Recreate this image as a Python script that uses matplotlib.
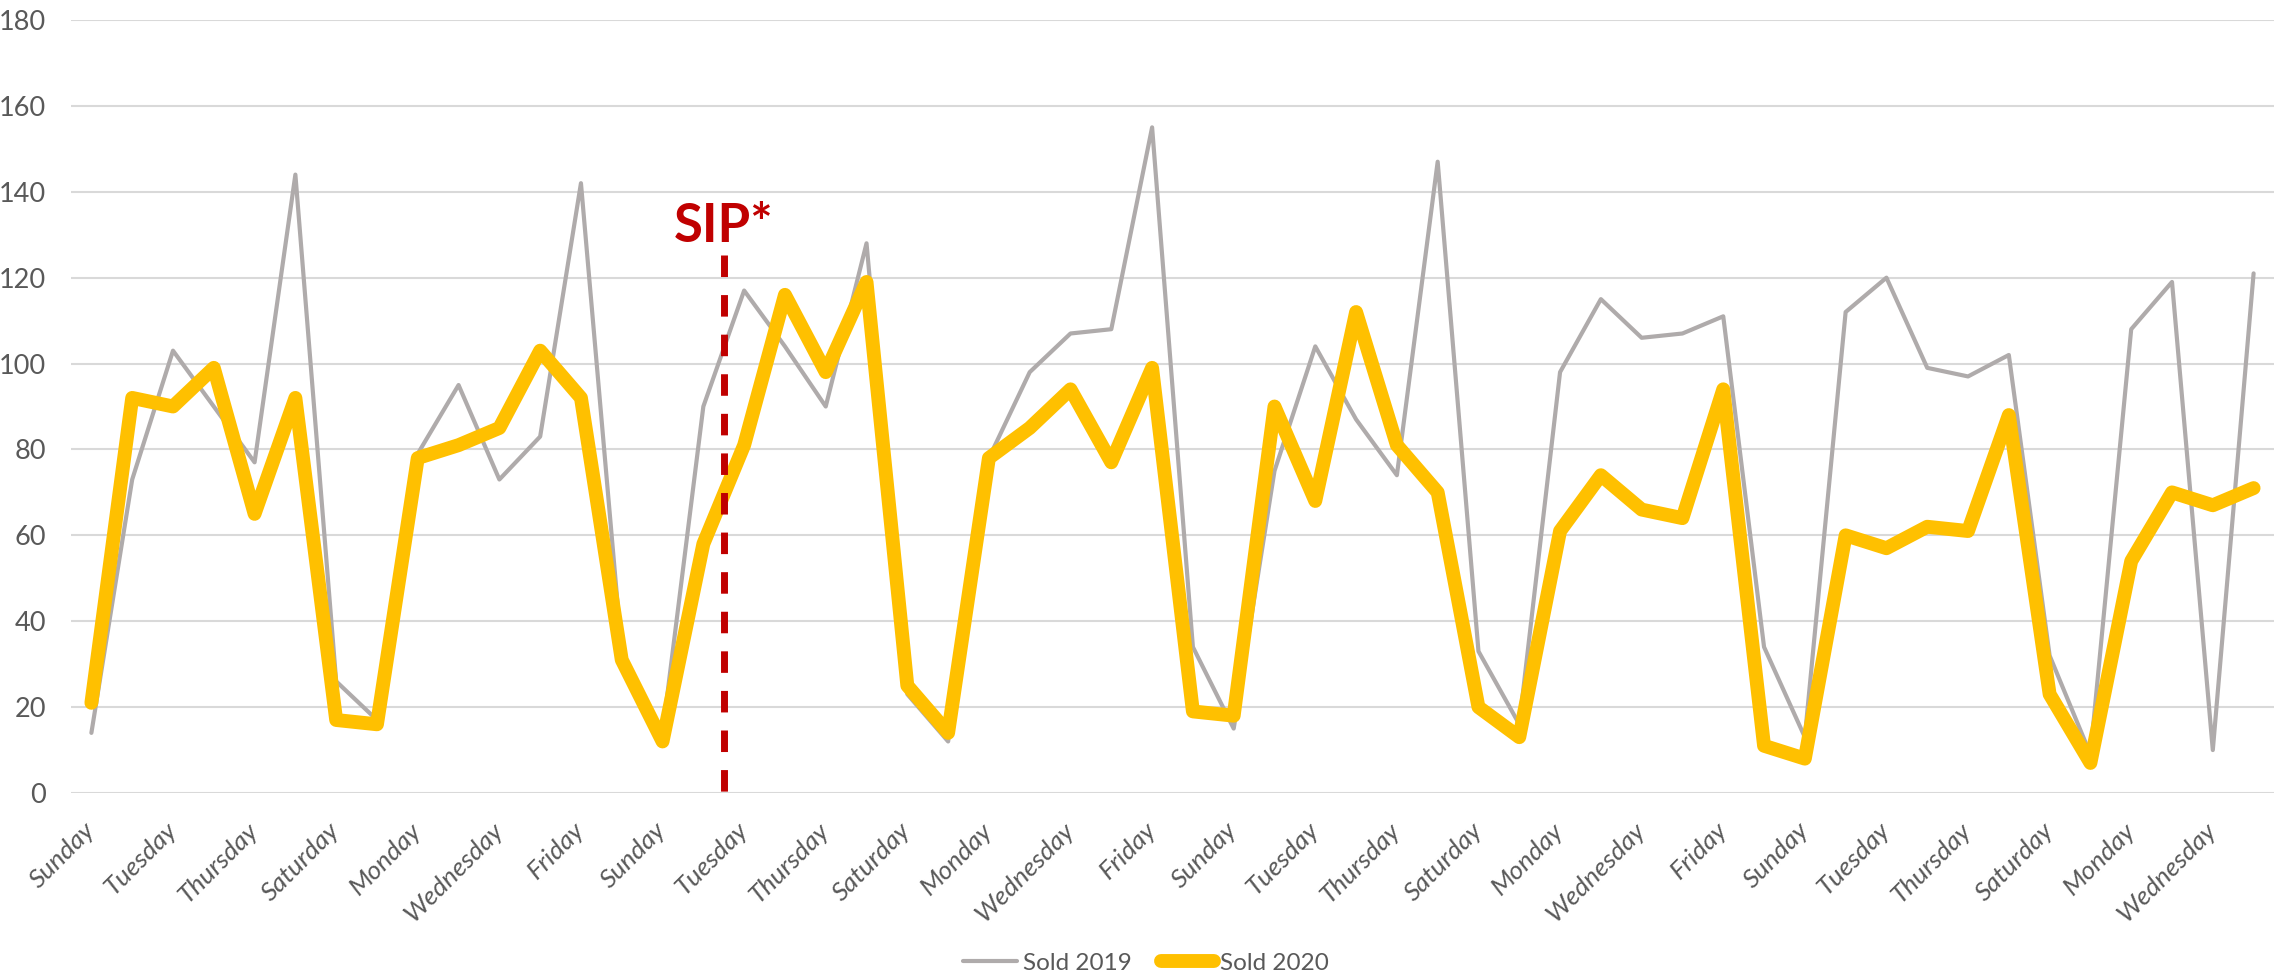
import numpy as np
import matplotlib
matplotlib.use("Agg")
import matplotlib.pyplot as plt
from matplotlib.lines import Line2D

# day names, one per point (54 days starting on a Sunday)
week = ["Sunday", "Monday", "Tuesday", "Wednesday", "Thursday", "Friday", "Saturday"]
days = [week[i % 7] for i in range(54)]

sold_2019 = [14, 73, 103, 90, 77, 144, 26, 17, 79, 95, 73, 83, 142, 33, 14, 90,
             117, 104, 90, 128, 23, 12, 78, 98, 107, 108, 155, 34, 15, 75, 104,
             87, 74, 147, 33, 16, 98, 115, 106, 107, 111, 34, 13, 112, 120, 99,
             97, 102, 32, 9, 108, 119, 10, 121]
sold_2020 = [21, 92, 90, 99, 65, 92, 17, 16, 78, 81, 85, 103, 92, 31, 12, 58,
             81, 116, 98, 119, 25, 14, 78, 85, 94, 77, 99, 19, 18, 90, 68,
             112, 81, 70, 20, 13, 61, 74, 66, 64, 94, 11, 8, 60, 57, 62,
             61, 88, 23, 7, 54, 70, 67, 71]

sip_position = 15.5  # between Monday and Tuesday of week 3
sip_label = "SIP*"

GRAY = "#AFABAB"
YELLOW = "#FFC000"
TEXT = "#595959"
RED = "#C00000"

plt.rcParams["font.family"] = ["Lato", "DejaVu Sans"]

W, H = 2280, 980
fig = plt.figure(figsize=(W / 100, H / 100), dpi=100)
ax = fig.add_axes([71 / W, 1 - 793 / H, (2274 - 71) / W, (793 - 20) / H])

x = np.arange(len(days))
ax.plot(x, sold_2019, color=GRAY, lw=3, solid_joinstyle="round",
        solid_capstyle="round", zorder=3)
ax.plot(x, sold_2020, color=YELLOW, lw=10, solid_joinstyle="round",
        solid_capstyle="round", zorder=4)

# shelter-in-place marker
ax.plot([sip_position, sip_position], [125.3, -2.2], color=RED, lw=5,
        dashes=(3.1, 2.6), solid_capstyle="butt", dash_capstyle="butt",
        clip_on=False, zorder=5)
ax.text(sip_position, 128.3, sip_label, color=RED, fontsize=38,
        fontweight="bold", ha="center", va="baseline", zorder=6)

ax.set_xlim(-0.5, len(days) - 0.5)
ax.set_ylim(0, 180)
ax.set_yticks(range(0, 181, 20))
ax.set_xticks(x[::2])
ax.set_xticklabels(days[::2], rotation=45, ha="right", va="center",
                   rotation_mode="anchor", style="italic", color=TEXT,
                   fontsize=19)
ax.tick_params(axis="x", length=0, pad=24)
ax.tick_params(axis="y", length=0, pad=18, labelsize=19.5, labelcolor=TEXT)
ax.grid(axis="y", color="#D9D9D9", lw=1.5, zorder=0)
ax.set_axisbelow(True)
for s in ax.spines.values():
    s.set_visible(False)

handles = [Line2D([], [], color=GRAY, lw=3, solid_capstyle="round"),
           Line2D([], [], color=YELLOW, lw=10, solid_capstyle="round")]
fig.legend(handles, ["Sold 2019", "Sold 2020"], loc="center",
           bbox_to_anchor=(1146 / W, 1 - 963 / H), ncol=2, frameon=False,
           fontsize=17.5, labelcolor=TEXT, handlelength=2.2, handletextpad=0.25,
           columnspacing=1.2)

fig.savefig("out.png", dpi=100, facecolor="white")
